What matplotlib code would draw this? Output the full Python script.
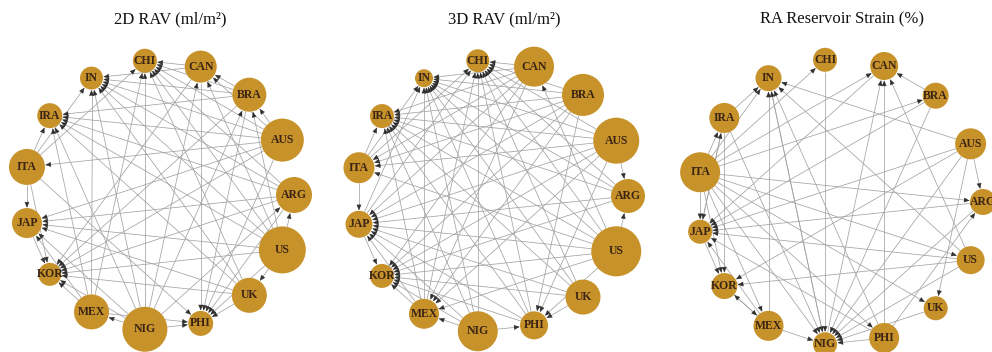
import numpy as np
import matplotlib.pyplot as plt
from matplotlib.patches import Circle

# nodes in layout order (alphabetical, counter-clockwise from the right)
countries = ['ARG', 'AUS', 'BRA', 'CAN', 'CHI', 'IN', 'IRA', 'ITA',
             'JAP', 'KOR', 'MEX', 'NIG', 'PHI', 'UK', 'US']

# node sizes (relative units)
size_2d = [18, 21.5, 17, 16, 12, 11.5, 12.5, 18, 15, 11.5, 17.5, 22.5, 12.5, 17.5, 23.5]
size_3d = [17, 23, 21, 20, 11.5, 9, 12, 15.5, 13.5, 12, 15, 20, 14, 17.5, 25]
size_strain = [13, 15.5, 13, 14, 12, 13, 15, 20, 12, 13, 15, 12, 15, 12, 14]

# directed edges (source, target)
edges_2d = (
    [(s, 'CHI') for s in ['US', 'AUS', 'NIG', 'ARG', 'BRA', 'MEX', 'UK', 'ITA', 'CAN']]
    + [(s, 'IN') for s in ['US', 'AUS', 'NIG', 'ARG', 'BRA', 'MEX', 'UK', 'ITA', 'CAN']]
    + [(s, 'KOR') for s in ['US', 'AUS', 'NIG', 'ARG', 'BRA', 'MEX', 'UK', 'ITA', 'CAN', 'JAP']]
    + [(s, 'PHI') for s in ['US', 'AUS', 'NIG', 'ARG', 'BRA', 'MEX', 'UK', 'ITA', 'CAN']]
    + [(s, 'IRA') for s in ['US', 'AUS', 'NIG', 'ARG', 'BRA', 'MEX', 'ITA', 'UK']]
    + [(s, 'JAP') for s in ['US', 'AUS', 'NIG', 'ARG', 'MEX', 'ITA', 'UK']]
    + [(s, 'CAN') for s in ['US', 'AUS', 'NIG', 'BRA']]
    + [(s, 'BRA') for s in ['US', 'AUS', 'NIG']]
    + [('US', 'ARG'), ('NIG', 'ARG'), ('US', 'UK'), ('NIG', 'MEX'), ('AUS', 'ITA')]
)

edges_3d = (
    [(s, 'CHI') for s in ['US', 'AUS', 'BRA', 'CAN', 'NIG', 'UK', 'ARG', 'PHI', 'MEX', 'ITA', 'JAP']]
    + [(s, 'IN') for s in ['US', 'AUS', 'BRA', 'CAN', 'NIG', 'UK', 'ARG', 'PHI', 'MEX', 'ITA', 'JAP']]
    + [(s, 'IRA') for s in ['US', 'AUS', 'BRA', 'CAN', 'NIG', 'UK', 'ARG', 'PHI', 'MEX', 'ITA']]
    + [(s, 'JAP') for s in ['US', 'AUS', 'BRA', 'CAN', 'NIG', 'UK', 'ARG', 'PHI', 'MEX', 'ITA']]
    + [(s, 'KOR') for s in ['US', 'AUS', 'BRA', 'CAN', 'NIG', 'UK', 'ARG', 'PHI', 'MEX', 'JAP']]
    + [(s, 'MEX') for s in ['US', 'AUS', 'BRA', 'CAN', 'NIG']]
    + [(s, 'PHI') for s in ['US', 'AUS', 'BRA', 'UK', 'NIG']]
    + [(s, 'ITA') for s in ['US', 'AUS', 'BRA', 'CAN']]
    + [('AUS', 'ARG'), ('US', 'ARG'), ('US', 'CAN')]
)

edges_strain = (
    [(s, 'NIG') for s in ['ITA', 'IRA', 'CHI', 'AUS', 'BRA', 'US', 'PHI', 'UK', 'MEX', 'ARG', 'IN']]
    + [(s, 'JAP') for s in ['ITA', 'IRA', 'AUS', 'BRA', 'US', 'PHI', 'CAN', 'ARG', 'MEX']]
    + [(s, 'IN') for s in ['ITA', 'IRA', 'MEX', 'AUS', 'US', 'PHI', 'NIG']]
    + [(s, 'CAN') for s in ['ITA', 'BRA', 'PHI', 'NIG', 'US']]
    + [(s, 'KOR') for s in ['ITA', 'IRA', 'JAP', 'AUS', 'US', 'MEX']]
    + [(s, 'ARG') for s in ['AUS', 'ITA', 'PHI']]
    + [('ITA', 'IRA'), ('JAP', 'IRA'), ('ITA', 'BRA'), ('ITA', 'CHI'),
       ('AUS', 'UK'), ('ITA', 'UK'), ('KOR', 'MEX'), ('ITA', 'MEX'),
       ('ITA', 'US'), ('ITA', 'PHI')]
)

titles = ['2D RAV (ml/m²)', '3D RAV (ml/m²)', 'RA Reservoir Strain (%)']

node_col = '#C8922B'
edge_col = '#a3a3a3'
head_col = '#2e2e2e'
label_col = '#3a2414'

fig = plt.figure(figsize=(9.92, 3.52), dpi=100)
ax = fig.add_axes([0, 0, 1, 1])
ax.set_xlim(0, 992)
ax.set_ylim(352, 0)
ax.set_aspect('equal')
ax.axis('off')

# panel layout: circle centre / radius and title x, in pixels
panels = [
    dict(cx=159, cy=195, R=135, tx=170, sizes=size_2d, edges=edges_2d),
    dict(cx=492, cy=196, R=136, tx=504, sizes=size_3d, edges=edges_3d),
    dict(cx=840, cy=202, R=143, tx=842, sizes=size_strain, edges=edges_strain),
]

n = len(countries)
for p, title in zip(panels, titles):
    ang = 2 * np.pi * np.arange(n) / n
    xs = p['cx'] + p['R'] * np.cos(ang)
    ys = p['cy'] - p['R'] * np.sin(ang)
    pos = {c: np.array([x, y]) for c, x, y in zip(countries, xs, ys)}
    rad = dict(zip(countries, p['sizes']))

    for s, t in p['edges']:
        d = pos[t] - pos[s]
        d = d / np.hypot(*d)
        start = pos[s] + d * rad[s]
        end = pos[t] - d * (rad[t] + 0.5)
        ax.plot([start[0], end[0] - d[0] * 2], [start[1], end[1] - d[1] * 2],
                color=edge_col, lw=0.55, zorder=2, solid_capstyle='butt')
        # small dark arrowhead at the target
        ax.annotate('', xy=end, xytext=end - d * 4, zorder=3,
                    arrowprops=dict(arrowstyle='-|>,head_length=0.7,head_width=0.3',
                                    color=head_col, lw=0.3, mutation_scale=5,
                                    shrinkA=0, shrinkB=0))

    for c in countries:
        ax.add_patch(Circle(pos[c], rad[c], facecolor=node_col,
                            edgecolor='none', zorder=5))
        ax.text(pos[c][0], pos[c][1], c, ha='center', va='center', fontsize=8.5,
                family='Liberation Serif', weight='bold', color=label_col, zorder=6)

    ax.text(p['tx'], 19, title, ha='center', va='center', fontsize=12,
            family='Liberation Serif', color='#111111')

fig.savefig('out.png', dpi=100)
